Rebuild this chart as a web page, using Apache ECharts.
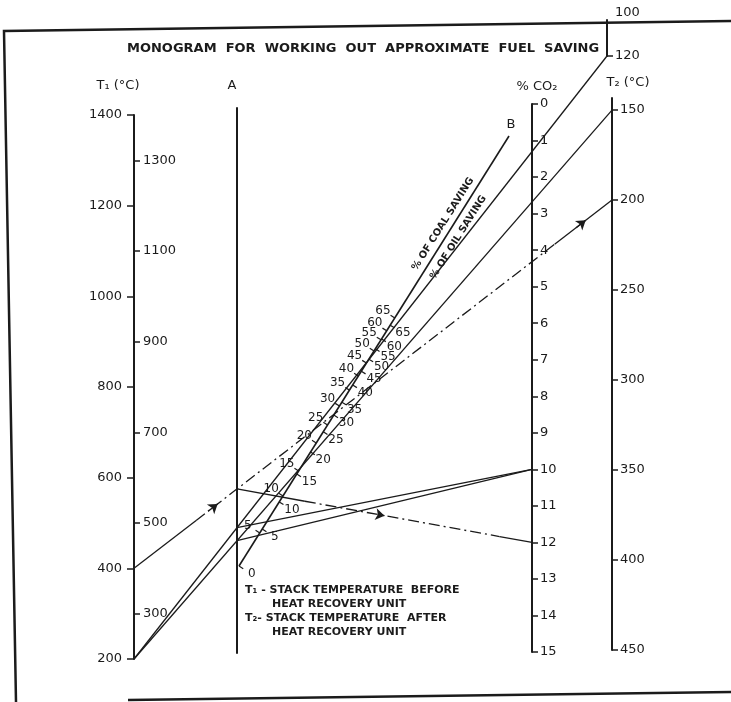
<!DOCTYPE html>
<html><head><meta charset="utf-8">
<script src="https://cdn.jsdelivr.net/npm/echarts@6/dist/echarts.min.js"></script>
<style>html,body{margin:0;padding:0;background:#fff}#c{width:731px;height:702px}</style>
</head><body><div id="c"></div>
<script>
// ================= DATA =================
const t1Major = [200, 400, 600, 800, 1000, 1200, 1400];
const t1Minor = [300, 500, 700, 900, 1100, 1300];
const co2Ticks = [0,1,2,3,4,5,6,7,8,9,10,11,12,13,14,15];
const t2Ticks = [150, 200, 250, 300, 350, 400, 450];
const t2UpperTicks = [100, 120];
const coalValues = [5,10,15,20,25,30,35,40,45,50,55,60,65];
const oilValues  = [0,5,10,15,20,25,30,35,40,45,50,55,60,65];
// worked examples: T1 -> T2, then A-point -> %CO2
const exampleT1  = [200, 200, 400];
const exampleT2  = [120, 150, 200];
const exampleCO2 = [10, 10, 12];

// ================= LAYOUT / STYLE =================
const INK = '#1b1b1b';
const FONT = 'DejaVu Sans';
const L = {
  T1:  {x:134, top:115, h:544},
  A:   {x:237, top:108, h:545},
  CO2: {x:532, top:104, h:548},
  T2:  {x:612, top:98,  h:552, min:143.3},
  T2u: {x:607, top:20,  h:36},
  bStart:[239,566], bEnd:[509,136],
  // positions of scale marks along line B (0 = at A, 1 = at B end)
  coalPos:[0.077,0.163,0.221,0.286,0.328,0.372,0.409,0.442,0.472,0.500,0.526,0.547,0.577],
  oilPos: [0.000,0.086,0.149,0.214,0.265,0.312,0.351,0.381,0.421,0.453,0.481,0.505,0.528,0.560],
  exampleDashed:[false,false,true]
};

const chart = echarts.init(document.getElementById('c'));

const grids = [
  {left:0, top:0, width:731, height:702},
  {left:L.T1.x, top:L.T1.top, width:1, height:L.T1.h},
  {left:L.A.x, top:L.A.top, width:1, height:L.A.h},
  {left:L.CO2.x-1, top:L.CO2.top, width:1, height:L.CO2.h},
  {left:L.T2.x-1, top:L.T2.top, width:1, height:L.T2.h},
  {left:L.T2u.x-1, top:L.T2u.top, width:1, height:L.T2u.h}
];
const aLine = {show:true, onZero:false, lineStyle:{color:INK, width:2}};
const tick = len => ({show:true, length:len, lineStyle:{color:INK, width:1.5}});
const plain = v => String(v);
const lab = {color:INK, fontFamily:FONT, fontSize:13, margin:8, formatter:plain};
const noSplit = {show:false};

// line B geometry
const bx = L.bEnd[0]-L.bStart[0], by = L.bEnd[1]-L.bStart[1];
const bLen = Math.hypot(bx,by);
const dir = [bx/bLen, by/bLen];
const nLeft = [dir[1], -dir[0]];   // towards upper-left
const nRight = [-dir[1], dir[0]];
const onB = t => [L.bStart[0]+bx*t, L.bStart[1]+by*t];
const bAngle = Math.atan2(-by, bx);

function txt(text, x, y, size, opts) {
  opts = opts || {};
  return {type:'text', x:x, y:y, rotation:opts.rot||0, z:10,
    style:{text:text, fill:INK, fontFamily:FONT, fontSize:size, fontWeight:opts.bold?'bold':'normal',
      align:opts.align||'center', textAlign:opts.align||'center', verticalAlign:'middle', textVerticalAlign:'middle'}};
}
const coalTextPos = onB(0.784), oilTextPos = onB(0.778);

const option = {
  animation:false,
  backgroundColor:'#fff',
  title:{text:'MONOGRAM  FOR  WORKING  OUT  APPROXIMATE  FUEL  SAVING', left:122, top:37,
    textStyle:{fontFamily:FONT, fontSize:13, fontWeight:'bold', color:INK}},
  grid: grids,
  xAxis: grids.map((g,i)=>({gridIndex:i, type:'value', min:0, max:i===0?731:1, show:false})),
  yAxis: [
    {gridIndex:0, type:'value', min:0, max:702, inverse:true, show:false},
    {gridIndex:1, type:'value', min:200, max:1400, interval:200, position:'left',
      axisLine:aLine, axisTick:tick(7), axisLabel:Object.assign({}, lab, {margin:12}), splitLine:noSplit},
    {gridIndex:1, type:'value', min:200, max:1400, position:'right',
      axisLine:{show:false}, axisTick:Object.assign(tick(6),{customValues:t1Minor}),
      axisLabel:Object.assign({}, lab, {customValues:t1Minor, margin:8}), splitLine:noSplit},
    {gridIndex:2, type:'value', min:0, max:1, axisLine:aLine, axisTick:{show:false}, axisLabel:{show:false}, splitLine:noSplit},
    {gridIndex:3, type:'value', min:0, max:15, interval:1, inverse:true, position:'right',
      axisLine:aLine, axisTick:tick(6), axisLabel:lab, splitLine:noSplit},
    {gridIndex:4, type:'value', min:L.T2.min, max:450, inverse:true, position:'right',
      axisLine:aLine, axisTick:Object.assign(tick(6),{customValues:t2Ticks}),
      axisLabel:Object.assign({}, lab, {customValues:t2Ticks}), splitLine:noSplit},
    {gridIndex:5, type:'value', min:100, max:120, inverse:true, position:'right',
      axisLine:aLine, axisTick:Object.assign(tick(6),{customValues:[120]}),
      axisLabel:Object.assign({}, lab, {customValues:t2UpperTicks,
        formatter:v=> v===100 ? '{u|100}' : String(v),
        rich:{u:{fontFamily:FONT, fontSize:13, color:INK, padding:[0,0,14,0]}}}), splitLine:noSplit}
  ],
  graphic: [
    {type:'polyline', shape:{points:[[16,702],[4,31],[731,21]]}, style:{stroke:INK, lineWidth:2.5, fill:null}},
    {type:'line', shape:{x1:128,y1:700,x2:731,y2:692}, style:{stroke:INK, lineWidth:2.5}},
    txt('T\u2081 (\u00B0C)', 118, 86, 13),
    txt('A', 232, 86, 13),
    txt('% CO\u2082', 537, 87, 13),
    txt('T\u2082 (\u00B0C)', 628, 83, 13),
    txt('B', L.bEnd[0]+2, L.bEnd[1]-11, 13),
    txt('% OF COAL SAVING', coalTextPos[0]+nLeft[0]*9, coalTextPos[1]+nLeft[1]*9, 10, {bold:true, rot:bAngle}),
    txt('% OF OIL SAVING', oilTextPos[0]+nRight[0]*11, oilTextPos[1]+nRight[1]*11, 10, {bold:true, rot:bAngle}),
    txt('T\u2081 - STACK TEMPERATURE  BEFORE', 245, 590, 11, {bold:true, align:'left'}),
    txt('HEAT RECOVERY UNIT', 272, 604, 11, {bold:true, align:'left'}),
    txt('T\u2082- STACK TEMPERATURE  AFTER', 245, 618, 11, {bold:true, align:'left'}),
    txt('HEAT RECOVERY UNIT', 272, 632, 11, {bold:true, align:'left'})
  ],
  series: []
};
chart.setOption(option);

// ============ solution lines through the library's scales ============
const yPix = (ai, v) => chart.convertToPixel({yAxisIndex:ai}, v);
const xPix = (xi, v) => chart.convertToPixel({xAxisIndex:xi}, v);
const toData = p => chart.convertFromPixel({gridIndex:0}, p);
const xT1 = xPix(1,0), xA = xPix(2,0), xCO2 = xPix(3,1), xT2 = xPix(4,1), xT2u = xPix(5,1);
const t1Pt = v => [xT1, yPix(1, v)];
const t2Pt = v => v < L.T2.min ? [xT2u, yPix(6, v)] : [xT2, yPix(5, v)];
const co2Pt = v => [xCO2, yPix(4, v)];
const lerp = (a,b,t) => [a[0]+(b[0]-a[0])*t, a[1]+(b[1]-a[1])*t];

const solid = {color:INK, width:1.3, type:'solid', opacity:1};
const dashDot = {color:INK, width:1.3, type:[11,4,2,4], opacity:1};
const segs = [], arrows = [];
function addLine(p, q, dashed, pieces, arrowTs) {
  if (!dashed) { segs.push({coords:[toData(p), toData(q)], lineStyle:solid}); return; }
  pieces.forEach(pc => segs.push({coords:[toData(lerp(p,q,pc[0])), toData(lerp(p,q,pc[1]))], lineStyle: pc[2] ? dashDot : solid}));
  arrowTs.forEach(t => arrows.push({coords:[toData(lerp(p,q,t-0.02)), toData(lerp(p,q,t))]}));
}
for (let i = 0; i < exampleT1.length; i++) {
  const p1 = t1Pt(exampleT1[i]), p2 = t2Pt(exampleT2[i]);
  const tA = (xA - p1[0]) / (p2[0] - p1[0]);
  const pA = lerp(p1, p2, tA);
  const pC = co2Pt(exampleCO2[i]);
  const d = L.exampleDashed[i];
  addLine(p1, p2, d, [[0,0.13,false],[0.13,0.88,true],[0.88,1,false]], [0.175, 0.945]);
  addLine(pA, pC, d, [[0,0.23,false],[0.23,0.89,true],[0.89,1,false]], [0.5]);
}

// scale B (coal on left, oil on right)
const bTicks = [], bLabels = [];
coalValues.forEach((v,i) => {
  const p = onB(L.coalPos[i]);
  bTicks.push({coords:[toData(p), toData([p[0]+nLeft[0]*5, p[1]+nLeft[1]*5])]});
  bLabels.push(toData([p[0]+nLeft[0]*14, p[1]+nLeft[1]*14]).concat([v]));
});
oilValues.forEach((v,i) => {
  const p = onB(L.oilPos[i]);
  bTicks.push({coords:[toData(p), toData([p[0]+nRight[0]*5, p[1]+nRight[1]*5])]});
  bLabels.push(toData([p[0]+nRight[0]*15, p[1]+nRight[1]*15]).concat([v]));
});

const common = {type:'lines', coordinateSystem:'cartesian2d', xAxisIndex:0, yAxisIndex:0, silent:true, polyline:false};
chart.setOption({series:[
  Object.assign({}, common, {name:'B', data:[{coords:[toData(L.bStart), toData(L.bEnd)]}], lineStyle:{color:INK, width:1.6, opacity:1}, z:3}),
  Object.assign({}, common, {name:'B ticks', data:bTicks, lineStyle:{color:INK, width:1.2, opacity:1}, z:3}),
  Object.assign({}, common, {name:'examples', data:segs, lineStyle:solid, z:4}),
  Object.assign({}, common, {name:'arrows', data:arrows, symbol:['none','arrow'], symbolSize:9, lineStyle:{color:INK, width:1.3, opacity:1}, itemStyle:{color:INK}, z:5}),
  {type:'scatter', name:'B labels', xAxisIndex:0, yAxisIndex:0, silent:true, symbolSize:0, itemStyle:{color:INK, opacity:1},
   data:bLabels, label:{show:true, position:'inside', formatter:p=>String(p.value[2]), color:INK, textBorderWidth:0, fontFamily:FONT, fontSize:12}, z:6}
]});
</script></body></html>
